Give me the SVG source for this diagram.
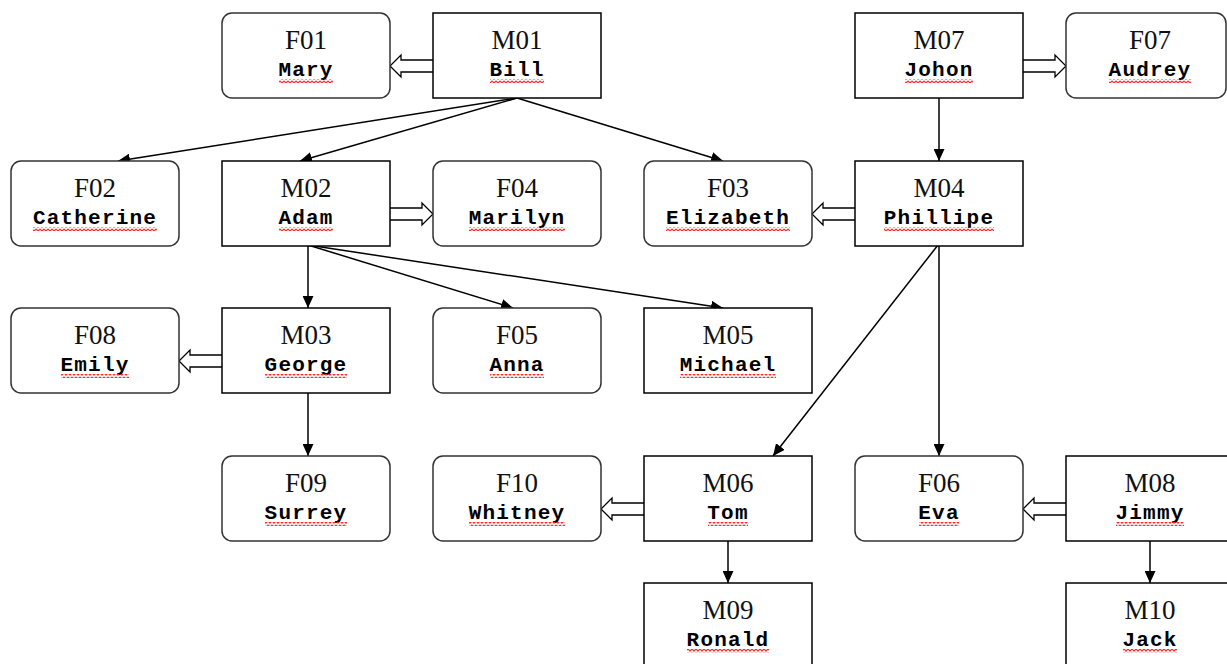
<svg xmlns="http://www.w3.org/2000/svg" width="1227" height="664" viewBox="0 0 1227 664">
<style>
.bg{fill:#ffffff}
.m{fill:#ffffff;stroke:#000;stroke-width:1.5}
.f{fill:#ffffff;stroke:#333;stroke-width:1.5}
.t{font-family:"Liberation Serif",serif;font-size:27px;fill:#111;text-anchor:middle}
.n{font-family:"Liberation Mono",monospace;font-size:21px;font-weight:bold;fill:#000;text-anchor:middle;letter-spacing:1.2px}
.u{fill:url(#wave)}
.c{stroke:#000;stroke-width:1.5;fill:none;marker-end:url(#ah)}
.b{stroke:#000;stroke-width:1.3;fill:#fff}
</style>
<defs>
<pattern id="wave" patternUnits="userSpaceOnUse" width="4" height="4">
<path d="M0,0.8 L2,3.2 L4,0.8" stroke="#ff2a2a" stroke-width="1.1" fill="none"/>
</pattern>
<marker id="ah" markerUnits="userSpaceOnUse" markerWidth="12" markerHeight="11" refX="12" refY="5.5" orient="auto">
<path d="M0,0 L12,5.5 L0,11 z" fill="#000"/>
</marker>
</defs>
<rect class="bg" x="0" y="0" width="1227" height="664"/>

<g id="connectors">
<line class="c" x1="517" y1="98" x2="118" y2="161"/>
<line class="c" x1="517" y1="98" x2="300" y2="161"/>
<line class="c" x1="517" y1="98" x2="723" y2="161"/>
<line class="c" x1="939" y1="98" x2="939" y2="161"/>
<line class="c" x1="308" y1="245" x2="308" y2="308"/>
<line class="c" x1="308" y1="245" x2="513" y2="308"/>
<line class="c" x1="308" y1="245" x2="723" y2="308"/>
<line class="c" x1="938" y1="245" x2="773" y2="456"/>
<line class="c" x1="939" y1="245" x2="939" y2="456"/>
<line class="c" x1="308" y1="393" x2="308" y2="456"/>
<line class="c" x1="728" y1="541" x2="728" y2="583"/>
<line class="c" x1="1150" y1="541" x2="1150" y2="583"/>
<polyline class="b" points="433,60 401,60 401,55 390,66 401,77 401,72 433,72"/>
<polyline class="b" points="1023,60 1055,60 1055,55 1066,66 1055,77 1055,72 1023,72"/>
<polyline class="b" points="390,208 422,208 422,203 433,214 422,225 422,220 390,220"/>
<polyline class="b" points="855,208 823,208 823,203 812,214 823,225 823,220 855,220"/>
<polyline class="b" points="222,355 190,355 190,350 179,361 190,372 190,367 222,367"/>
<polyline class="b" points="644,503 612,503 612,498 601,509 612,520 612,515 644,515"/>
<polyline class="b" points="1066,503 1034,503 1034,498 1023,509 1034,520 1034,515 1066,515"/>
</g>

<g id="F01"><rect class="f" x="222" y="13" width="168" height="85" rx="10"/><text class="t" x="306" y="49">F01</text><text class="n" x="306" y="76">Mary</text><rect class="u" x="279" y="79" width="54" height="4"/></g>
<g id="M01"><rect class="m" x="433" y="13" width="168" height="85"/><text class="t" x="517" y="49">M01</text><text class="n" x="517" y="76">Bill</text><rect class="u" x="490" y="79" width="54" height="4"/></g>
<g id="M07"><rect class="m" x="855" y="13" width="168" height="85"/><text class="t" x="939" y="49">M07</text><text class="n" x="939" y="76">Johon</text><rect class="u" x="905" y="79" width="68" height="4"/></g>
<g id="F07"><rect class="f" x="1066" y="13" width="160" height="85" rx="10"/><text class="t" x="1150" y="49">F07</text><text class="n" x="1150" y="76">Audrey</text><rect class="u" x="1109" y="79" width="82" height="4"/></g>

<g id="F02"><rect class="f" x="11" y="161" width="168" height="85" rx="10"/><text class="t" x="95" y="197">F02</text><text class="n" x="95" y="224">Catherine</text><rect class="u" x="33" y="227" width="124" height="4"/></g>
<g id="M02"><rect class="m" x="222" y="161" width="168" height="85"/><text class="t" x="306" y="197">M02</text><text class="n" x="306" y="224">Adam</text><rect class="u" x="279" y="227" width="54" height="4"/></g>
<g id="F04"><rect class="f" x="433" y="161" width="168" height="85" rx="10"/><text class="t" x="517" y="197">F04</text><text class="n" x="517" y="224">Marilyn</text><rect class="u" x="469" y="227" width="96" height="4"/></g>
<g id="F03"><rect class="f" x="644" y="161" width="168" height="85" rx="10"/><text class="t" x="728" y="197">F03</text><text class="n" x="728" y="224">Elizabeth</text><rect class="u" x="666" y="227" width="124" height="4"/></g>
<g id="M04"><rect class="m" x="855" y="161" width="168" height="85"/><text class="t" x="939" y="197">M04</text><text class="n" x="939" y="224">Phillipe</text><rect class="u" x="884" y="227" width="110" height="4"/></g>

<g id="F08"><rect class="f" x="11" y="308" width="168" height="85" rx="10"/><text class="t" x="95" y="344">F08</text><text class="n" x="95" y="371">Emily</text><rect class="u" x="61" y="374" width="68" height="4"/></g>
<g id="M03"><rect class="m" x="222" y="308" width="168" height="85"/><text class="t" x="306" y="344">M03</text><text class="n" x="306" y="371">George</text><rect class="u" x="265" y="374" width="82" height="4"/></g>
<g id="F05"><rect class="f" x="433" y="308" width="168" height="85" rx="10"/><text class="t" x="517" y="344">F05</text><text class="n" x="517" y="371">Anna</text><rect class="u" x="490" y="374" width="54" height="4"/></g>
<g id="M05"><rect class="m" x="644" y="308" width="168" height="85"/><text class="t" x="728" y="344">M05</text><text class="n" x="728" y="371">Michael</text><rect class="u" x="680" y="374" width="96" height="4"/></g>

<g id="F09"><rect class="f" x="222" y="456" width="168" height="85" rx="10"/><text class="t" x="306" y="492">F09</text><text class="n" x="306" y="519">Surrey</text><rect class="u" x="265" y="522" width="82" height="4"/></g>
<g id="F10"><rect class="f" x="433" y="456" width="168" height="85" rx="10"/><text class="t" x="517" y="492">F10</text><text class="n" x="517" y="519">Whitney</text><rect class="u" x="469" y="522" width="96" height="4"/></g>
<g id="M06"><rect class="m" x="644" y="456" width="168" height="85"/><text class="t" x="728" y="492">M06</text><text class="n" x="728" y="519">Tom</text><rect class="u" x="708" y="522" width="40" height="4"/></g>
<g id="F06"><rect class="f" x="855" y="456" width="168" height="85" rx="10"/><text class="t" x="939" y="492">F06</text><text class="n" x="939" y="519">Eva</text><rect class="u" x="919" y="522" width="40" height="4"/></g>
<g id="M08"><rect class="m" x="1066" y="456" width="168" height="85"/><text class="t" x="1150" y="492">M08</text><text class="n" x="1150" y="519">Jimmy</text><rect class="u" x="1116" y="522" width="68" height="4"/></g>

<g id="M09"><rect class="m" x="644" y="583" width="168" height="100"/><text class="t" x="728" y="619">M09</text><text class="n" x="728" y="646">Ronald</text><rect class="u" x="687" y="649" width="82" height="4"/></g>
<g id="M10"><rect class="m" x="1066" y="583" width="168" height="100"/><text class="t" x="1150" y="619">M10</text><text class="n" x="1150" y="646">Jack</text><rect class="u" x="1123" y="649" width="54" height="4"/></g>
</svg>
